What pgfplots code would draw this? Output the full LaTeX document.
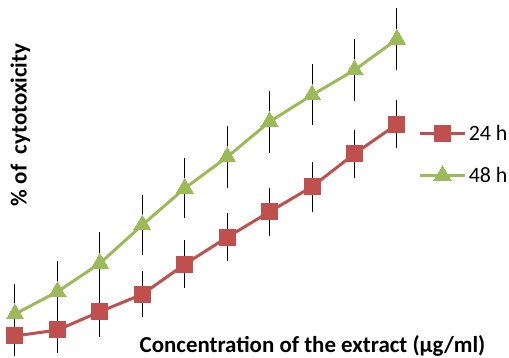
\documentclass[border=0pt]{standalone}
\usepackage{pgfplots}
\pgfplotsset{compat=1.18}
\usepackage{pgfplotstable}
\usepackage{fontspec}
\setmainfont{Carlito}
\definecolor{cred}{HTML}{C0504D}
\definecolor{cgreen}{HTML}{9BBB59}
\pgfplotstableread{
x y e
1 22 20
2 28 23
3 46.3 25
4 63.7 23
5 93.7 24
6 120.7 24
7 146.3 24
8 171.3 25
9 204.3 24
10 233.7 24
}\redtab
\pgfplotstableread{
x y e
1 44 30
2 66.3 31
3 94.7 31.6
4 133 30
5 169.7 30
6 201 31
7 236.3 31
8 263 30.5
9 288 31
10 318.7 31
}\greentab
\begin{document}
\begin{tikzpicture}
\useasboundingbox (0,0) rectangle (509bp,358bp);
\begin{axis}[
  scale only axis, width=509bp, height=358bp,
  xmin=0.6466, xmax=12.64, ymin=0, ymax=358,
  axis line style={draw=none}, ticks=none, clip=false,
  xlabel={\bfseries Concentration of the extract (µg/ml)},
  xlabel style={at={(rel axis cs:0.614,0.0335)}, anchor=center, font=\fontsize{23}{26}\selectfont},
  ylabel={\bfseries \%\ of\ \ cytotoxicity},
  ylabel style={at={(rel axis cs:0.04,0.651)}, anchor=center, rotate=0, font=\fontsize{23}{26}\selectfont},
  legend style={at={(rel axis cs:0.822,0.655)}, anchor=north west, draw=none, fill=none,
    font=\fontsize{22}{26}\selectfont, row sep=21bp, inner sep=0pt, outer sep=0pt},
  legend cell align=left,
  legend image code/.code={\draw[mark repeat=2,mark phase=2] plot coordinates {(0cm,0cm) (0.8cm,0cm) (1.6cm,0cm)};},
]
\addplot[draw=none, mark=none, forget plot, error bars/.cd, y dir=both, y explicit, error mark=none,
  error bar style={black, line width=1bp}] table[x=x,y=y,y error=e] {\redtab};
\addplot[draw=none, mark=none, forget plot, error bars/.cd, y dir=both, y explicit, error mark=none,
  error bar style={black, line width=1bp}] table[x=x,y=y,y error=e] {\greentab};
\addplot[cred, line width=3bp, mark=square*, mark size=8bp, mark options={solid, fill=cred, line width=0pt}] table[x=x,y=y] {\redtab};
\addlegendentry{24 h}
\addplot[cgreen, line width=3bp, mark=triangle*, mark size=10bp, mark options={solid, fill=cgreen, line width=0pt}] table[x=x,y=y] {\greentab};
\addlegendentry{48 h}
\end{axis}
\end{tikzpicture}
\end{document}
